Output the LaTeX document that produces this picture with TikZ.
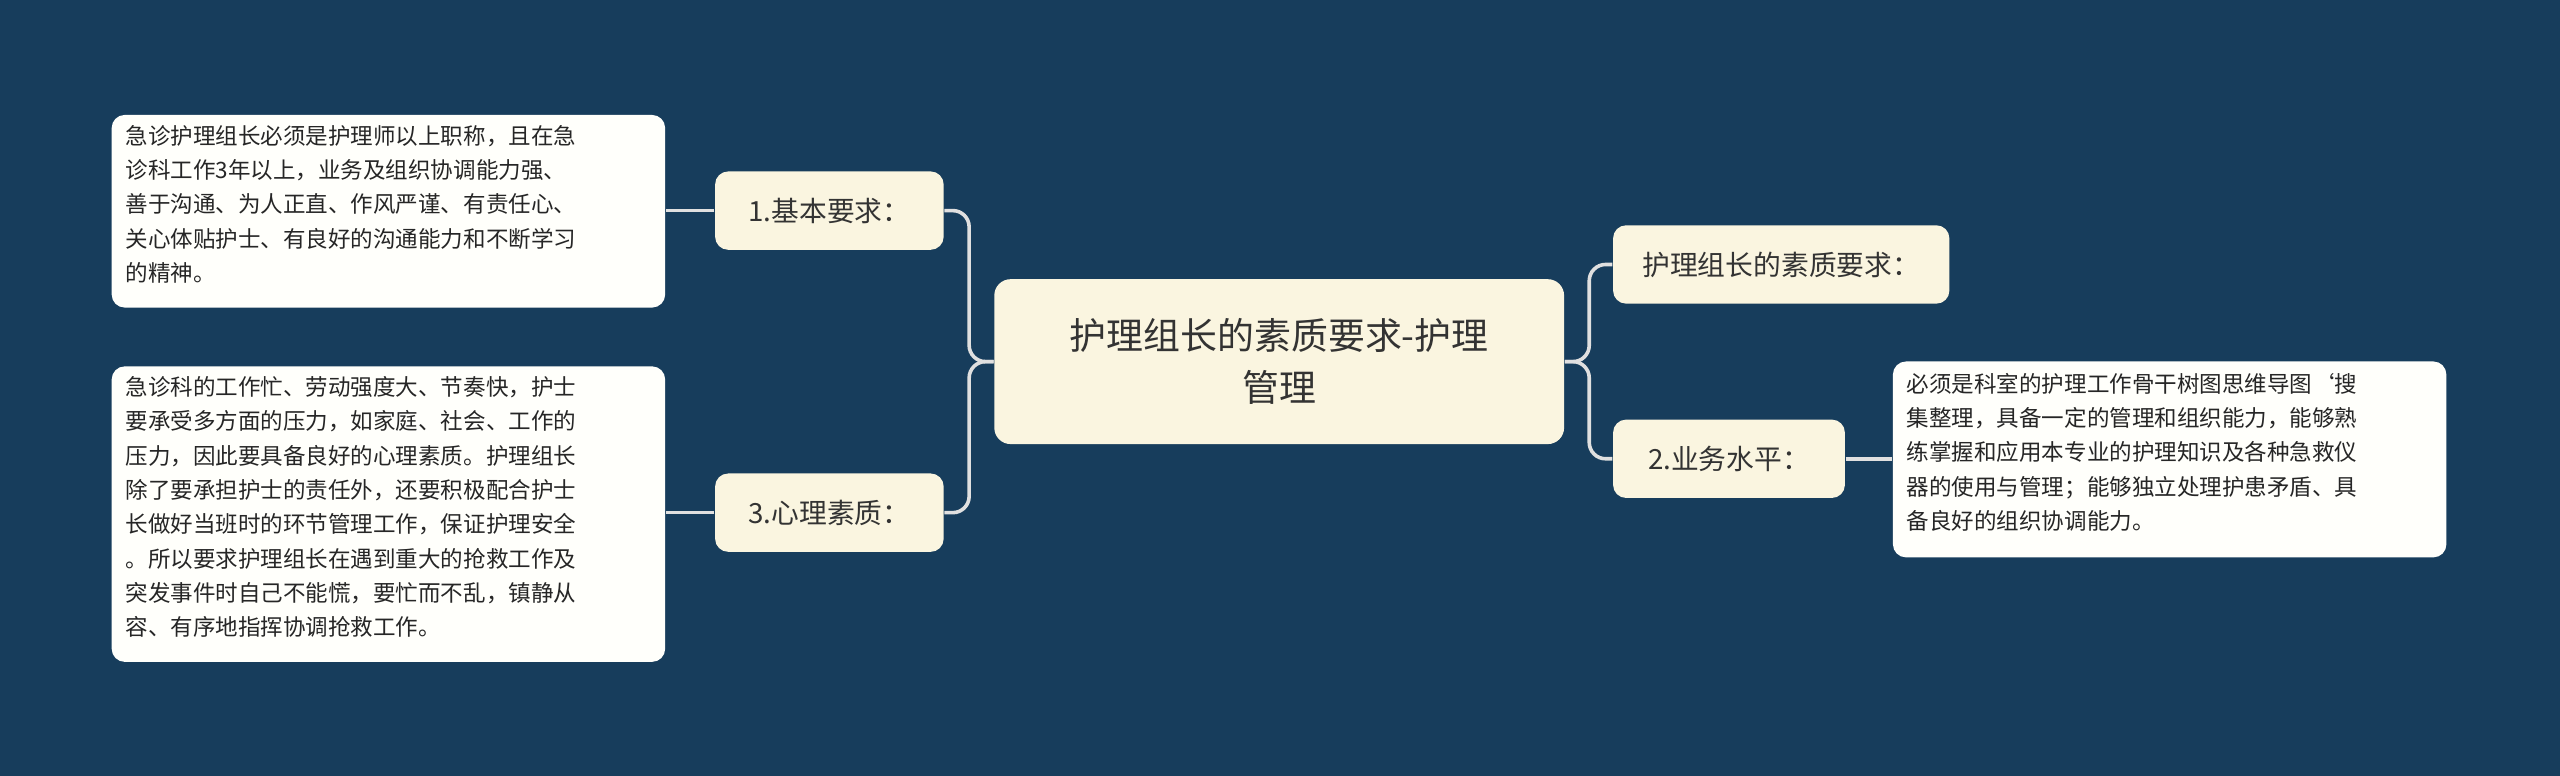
\documentclass[tikz,border=0pt]{standalone}
\usepackage{fontspec}
\setmainfont{Noto Sans CJK SC}
\begin{document}
\begin{tikzpicture}[x=0.5pt,y=-0.5pt,
  conn/.style={draw=black!12!white,line width=1.1pt,rounded corners=5pt},
  mainbox/.style={fill=cream,rounded corners=4pt,inner sep=0pt,font=\fontsize{8.5pt}{11pt}\selectfont,text=black!80},
  leafbox/.style={fill=leaf,rounded corners=4pt,inner sep=0pt,align=left,anchor=north west,font=\fontsize{6.9pt}{10.5pt}\selectfont,text=black!85}]
\definecolor{bg}{HTML}{173D5C}
\definecolor{cream}{HTML}{FAF5E0}
\definecolor{leaf}{HTML}{FFFFFB}
\fill[bg] (0,0) rectangle (1568,475);
\useasboundingbox (0,0) rectangle (1568,475);
% center
\node[fill=cream,rounded corners=5pt,minimum width=174.5pt,minimum height=50.5pt,align=center,font=\fontsize{11.3pt}{16pt}\selectfont,text=black!80] (c) at (783.5,221.5) {护理组长的素质要求-护理\\管理};
% children
\node[mainbox,minimum width=70pt,minimum height=24pt] (b1) at (508,129) {1.基本要求：};
\node[mainbox,minimum width=70pt,minimum height=24pt] (b3) at (508,314) {3.心理素质：};
\node[mainbox,minimum width=103pt,minimum height=24pt] (r1) at (1091,162) {护理组长的素质要求：};
\node[mainbox,minimum width=71pt,minimum height=24pt] (r2) at (1059,281) {2.业务水平：};
% leaves
\node[leafbox,minimum width=169.5pt,minimum height=59pt,text width=161pt] (l1) at (68,70) {\hspace*{0pt}\\[-9pt]急诊护理组长必须是护理师以上职称，且在急\\诊科工作3年以上，业务及组织协调能力强、\\善于沟通、为人正直、作风严谨、有责任心、\\关心体贴护士、有良好的沟通能力和不断学习\\的精神。};
\node[leafbox,minimum width=169.5pt,minimum height=90.5pt,text width=161pt] (l3) at (68,224) {\hspace*{0pt}\\[-9pt]急诊科的工作忙、劳动强度大、节奏快，护士\\要承受多方面的压力，如家庭、社会、工作的\\压力，因此要具备良好的心理素质。护理组长\\除了要承担护士的责任外，还要积极配合护士\\长做好当班时的环节管理工作，保证护理安全\\。所以要求护理组长在遇到重大的抢救工作及\\突发事件时自己不能慌，要忙而不乱，镇静从\\容、有序地指挥协调抢救工作。};
\node[leafbox,minimum width=169.5pt,minimum height=60pt,text width=161pt] (l2) at (1159,221) {\hspace*{0pt}\\[-9pt]必须是科室的护理工作骨干树图思维导图`搜\\集整理，具备一定的管理和组织能力，能够熟\\练掌握和应用本专业的护理知识及各种急救仪\\器的使用与管理；能够独立处理护患矛盾、具\\备良好的组织协调能力。};
% connectors
\draw[conn] (c.west) -- ++(-15,0) |- (b1.east);
\draw[conn] (c.west) -- ++(-15,0) |- (b3.east);
\draw[conn] (c.east) -- ++(15,0) |- (r1.west);
\draw[conn] (c.east) -- ++(15,0) |- (r2.west);
\draw[conn] (b1.west) -- (b1.west -| l1.east);
\draw[conn] (b3.west) -- (b3.west -| l3.east);
\draw[conn] (r2.east) -- (r2.east -| l2.west);
\end{tikzpicture}
\end{document}
